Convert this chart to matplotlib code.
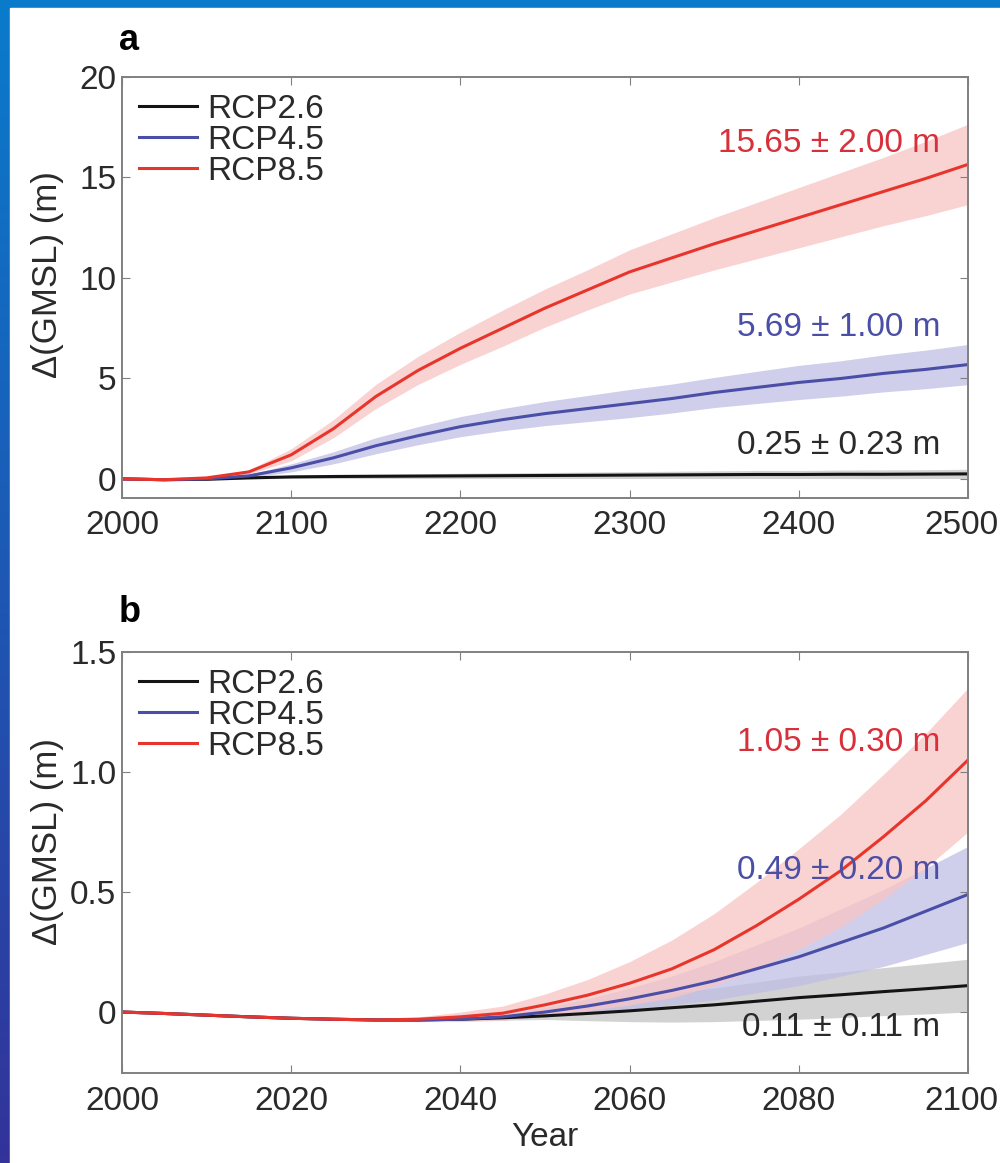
"""
Projected GMSL rise for three RCP scenarios, to 2500 (a) and to 2100 (b).
"""
import numpy as np
import matplotlib
matplotlib.use('Agg')
import matplotlib.pyplot as plt
from matplotlib.colors import LinearSegmentedColormap
from matplotlib.patches import Rectangle
from matplotlib.transforms import ScaledTranslation

plt.rcParams['font.family'] = ['Liberation Sans', 'DejaVu Sans']

# panel a: 2000-2500, every 25 years
years_a = [2000, 2025, 2050, 2075, 2100, 2125, 2150, 2175, 2200, 2225, 2250,
           2275, 2300, 2325, 2350, 2375, 2400, 2425, 2450, 2475, 2500]
rcp26_a = [0, -0.04, -0.02, 0.05, 0.10, 0.12, 0.13, 0.14, 0.15, 0.16, 0.17,
           0.18, 0.19, 0.20, 0.21, 0.22, 0.22, 0.23, 0.23, 0.24, 0.25]
rcp26_a_err = [0, 0, 0.01, 0.04, 0.08, 0.1, 0.11, 0.12, 0.13, 0.14, 0.15,
               0.16, 0.17, 0.18, 0.19, 0.2, 0.2, 0.21, 0.22, 0.22, 0.23]
rcp45_a = [0, -0.04, 0.0, 0.15, 0.55, 1.05, 1.65, 2.15, 2.6, 2.95, 3.25,
           3.5, 3.75, 4.0, 4.3, 4.55, 4.8, 5.0, 5.25, 5.45, 5.69]
rcp45_a_err = [0, 0, 0.02, 0.08, 0.2, 0.3, 0.4, 0.45, 0.5, 0.55, 0.6,
               0.65, 0.7, 0.72, 0.75, 0.8, 0.85, 0.88, 0.92, 0.96, 1.0]
rcp85_a = [0, -0.04, 0.05, 0.35, 1.2, 2.5, 4.1, 5.4, 6.5, 7.5, 8.5,
           9.4, 10.3, 11.0, 11.7, 12.35, 13.0, 13.65, 14.3, 14.95, 15.65]
rcp85_a_err = [0, 0, 0.02, 0.1, 0.3, 0.45, 0.6, 0.7, 0.8, 0.9, 0.95,
               1.0, 1.1, 1.2, 1.3, 1.4, 1.5, 1.6, 1.7, 1.85, 2.0]

# panel b: 2000-2100, every 5 years
years_b = [2000, 2005, 2010, 2015, 2020, 2025, 2030, 2035, 2040, 2045, 2050,
           2055, 2060, 2065, 2070, 2075, 2080, 2085, 2090, 2095, 2100]
rcp26_b = [0, -0.006, -0.013, -0.02, -0.026, -0.03, -0.033, -0.033, -0.03, -0.024, -0.016,
           -0.006, 0.005, 0.018, 0.03, 0.045, 0.06, 0.072, 0.085, 0.097, 0.11]
rcp26_b_err = [0, 0, 0, 0, 0, 0, 0, 0.002, 0.005, 0.01, 0.015,
               0.03, 0.045, 0.06, 0.07, 0.08, 0.09, 0.095, 0.1, 0.105, 0.11]
rcp45_b = [0, -0.006, -0.013, -0.02, -0.026, -0.03, -0.033, -0.033, -0.03, -0.02, 0.0,
           0.025, 0.055, 0.09, 0.13, 0.18, 0.23, 0.29, 0.35, 0.42, 0.49]
rcp45_b_err = [0, 0, 0, 0, 0, 0, 0, 0.003, 0.005, 0.01, 0.02,
               0.03, 0.045, 0.06, 0.08, 0.1, 0.12, 0.14, 0.16, 0.18, 0.2]
rcp85_b = [0, -0.006, -0.013, -0.02, -0.026, -0.03, -0.033, -0.03, -0.02, -0.005, 0.03,
           0.07, 0.12, 0.18, 0.26, 0.36, 0.47, 0.59, 0.73, 0.88, 1.05]
rcp85_b_err = [0, 0, 0, 0, 0, 0, 0.005, 0.01, 0.02, 0.03, 0.045,
               0.065, 0.09, 0.12, 0.15, 0.18, 0.21, 0.235, 0.26, 0.28, 0.30]

labels = ['RCP2.6', 'RCP4.5', 'RCP8.5']
line_colors = ['#141414', '#4a4ea6', '#e8352b']
band_colors = ['#c4c4c4', '#bfbfe6', '#f8c4c4']
text_colors = ['#2a2a2a', '#4a4ea6', '#d8303a']
ends_a = ['0.25 ± 0.23 m', '5.69 ± 1.00 m', '15.65 ± 2.00 m']
ends_b = ['0.11 ± 0.11 m', '0.49 ± 0.20 m', '1.05 ± 0.30 m']

FS = 24

fig = plt.figure(figsize=(10, 11.63), dpi=100)

# slide background: blue gradient with white page on top
bg = fig.add_axes([0, 0, 1, 1], zorder=-10)
grad = np.linspace(0, 1, 256).reshape(-1, 1)
cmap = LinearSegmentedColormap.from_list('slide', ['#0a7bcb', '#1d58b4', '#33339a'])
bg.imshow(grad, aspect='auto', cmap=cmap, extent=[0, 1, 0, 1], origin='upper')
bg.add_patch(Rectangle((0.010, 0), 0.99, 1 - 8 / 1163, color='white'))
bg.set_xlim(0, 1)
bg.set_ylim(0, 1)
bg.axis('off')

ax_a = fig.add_axes([0.122, 1 - 498 / 1163, 0.846, 421 / 1163])
ax_b = fig.add_axes([0.122, 1 - 1073 / 1163, 0.846, 421 / 1163])


def panel(ax, years, series, errs, ends, ends_y, ylab_y):
    for vals, err, bc in zip(series, errs, band_colors):
        v = np.array(vals)
        e = np.array(err)
        ax.fill_between(years, v - e, v + e, color=bc, alpha=0.75, lw=0)
    for vals, lab, lc in zip(series, labels, line_colors):
        ax.plot(years, vals, color=lc, lw=2.2, label=lab)
    for txt, ty, tc in zip(ends, ends_y, text_colors):
        ax.text(0.967, ty, txt, transform=ax.transAxes, ha='right', va='center',
                color=tc, fontsize=FS)
    ax.legend(loc='upper left', frameon=False, fontsize=FS, handlelength=1.75,
              handletextpad=0.3, labelspacing=0.0, borderaxespad=0.2,
              labelcolor='#2a2a2a', borderpad=0.3)
    for s in ax.spines.values():
        s.set_color('#808080')
        s.set_linewidth(1.4)
    ax.tick_params(axis='both', direction='in', top=True, right=True,
                   length=6, color='#808080', labelsize=FS, labelcolor='#2a2a2a')
    ax.tick_params(axis='x', pad=9)
    ax.tick_params(axis='y', pad=4)
    ax.set_ylabel('Δ(GMSL) (m)', fontsize=FS + 1, color='#2a2a2a')
    ax.yaxis.set_label_coords(-0.068, ylab_y)


panel(ax_a, years_a, [rcp26_a, rcp45_a, rcp85_a],
      [rcp26_a_err, rcp45_a_err, rcp85_a_err], ends_a, [0.124, 0.404, 0.843], 0.53)
ax_a.set_xlim(2000, 2500)
ax_a.set_ylim(-0.95, 20)
ax_a.set_xticks([2000, 2100, 2200, 2300, 2400, 2500])
ax_a.set_yticks([0, 5, 10, 15, 20])
ax_a.set_yticklabels(['0', '5', '10', '15', '20'])

panel(ax_b, years_b, [rcp26_b, rcp45_b, rcp85_b],
      [rcp26_b_err, rcp45_b_err, rcp85_b_err], ends_b, [0.107, 0.482, 0.784], 0.55)
ax_b.set_xlim(2000, 2100)
ax_b.set_ylim(-0.254, 1.5)
ax_b.set_xticks([2000, 2020, 2040, 2060, 2080, 2100])
ax_b.set_yticks([0, 0.5, 1.0, 1.5])
ax_b.set_yticklabels(['0', '0.5', '1.0', '1.5'])
ax_b.set_xlabel('Year', fontsize=FS, color='#2a2a2a', labelpad=4)

# keep the last year label inside the page
for ax in (ax_a, ax_b):
    last = ax.get_xticklabels()[-1]
    last.set_transform(last.get_transform()
                       + ScaledTranslation(-7 / 100, 0, fig.dpi_scale_trans))

fig.text(0.119, 1 - 40 / 1163, 'a', fontsize=FS + 2, fontweight='bold', va='center')
fig.text(0.119, 1 - 612 / 1163, 'b', fontsize=FS + 2, fontweight='bold', va='center')

fig.savefig('out.png', dpi=100)
